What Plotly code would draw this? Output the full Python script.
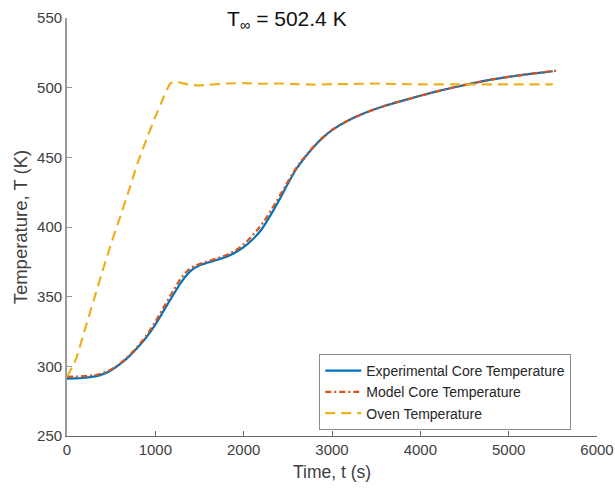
import plotly.graph_objects as go

# ---- data ----
t_exp = [0, 100, 200, 300, 400, 500, 600, 700, 800, 900, 1000, 1100, 1200, 1300, 1400,
         1500, 1600, 1700, 1800, 1900, 2000, 2100, 2200, 2300, 2400, 2500, 2600, 2700,
         2800, 2900, 3000, 3200, 3400, 3600, 3800, 4000, 4200, 4400, 4600, 4800, 5000,
         5200, 5400, 5500]
T_exp = [291.2, 291.3, 291.8, 292.6, 294.2, 297.2, 301.5, 307.0, 313.5, 321.0, 330.0,
         340.5, 351.0, 361.0, 368.5, 372.5, 374.5, 376.5, 378.5, 381.5, 385.5, 391.0,
         398.0, 408.0, 419.0, 431.0, 442.0, 450.5, 458.0, 464.3, 469.5, 477.0, 482.5,
         487.0, 490.7, 494.2, 497.5, 500.5, 503.3, 505.8, 507.8, 509.5, 511.0, 511.8]

t_mod = [0, 100, 200, 300, 400, 500, 600, 700, 800, 900, 1000, 1100, 1200, 1300, 1400,
         1500, 1600, 1700, 1800, 1900, 2000, 2100, 2200, 2300, 2400, 2500, 2600, 2700,
         2800, 2900, 3000, 3200, 3400, 3600, 3800, 4000, 4200, 4400, 4600, 4800, 5000,
         5200, 5400, 5560]
T_mod = [292.5, 292.6, 293.0, 293.6, 295.0, 297.8, 302.0, 307.5, 314.3, 322.3, 332.0,
         343.0, 354.0, 364.0, 370.5, 373.5, 375.5, 377.5, 379.8, 383.0, 387.5, 394.0,
         401.5, 411.0, 421.5, 432.5, 442.8, 451.0, 458.3, 464.5, 469.7, 477.0, 482.5,
         487.0, 490.7, 494.2, 497.5, 500.5, 503.3, 505.8, 507.8, 509.5, 511.2, 512.3]

t_oven = [0, 100, 200, 300, 400, 500, 600, 700, 800, 900, 1000, 1100, 1170, 1220,
          1300, 1400, 1500, 1600, 1800, 2000, 2200, 2400, 2600, 2800, 3000, 3200, 3500,
          3800, 4000, 4500, 5000, 5500]
T_oven = [292.5, 305.0, 326.0, 347.0, 368.0, 388.0, 407.0, 426.0, 446.0, 463.0, 479.0,
          494.0, 503.0, 504.5, 503.3, 502.0, 501.6, 502.0, 503.0, 503.2, 502.8,
          503.0, 502.5, 502.2, 502.5, 502.6, 503.0, 502.5, 502.4, 502.4, 502.4, 502.4]

names = ["Experimental Core Temperature", "Model Core Temperature", "Oven Temperature"]
x_ticks = [0, 1000, 2000, 3000, 4000, 5000, 6000]
y_ticks = [250, 300, 350, 400, 450, 500, 550]

FONT = "Liberation Sans, Arial, sans-serif"

fig = go.Figure()
fig.add_trace(go.Scatter(x=t_exp, y=T_exp, mode="lines", name=names[0],
                         line=dict(color="#0072BD", width=2.2, shape="spline")))
fig.add_trace(go.Scatter(x=t_mod, y=T_mod, mode="lines", name=names[1],
                         line=dict(color="#D95319", width=2.2, dash="6px,3px,2px,3px",
                                   shape="spline")))
fig.add_trace(go.Scatter(x=t_oven, y=T_oven, mode="lines", name=names[2],
                         line=dict(color="#EDB120", width=2.2, dash="10px,6px",
                                   shape="spline", smoothing=0.6)))

fig.update_layout(
    width=615, height=489,
    margin=dict(l=67, r=18, t=18, b=53),
    paper_bgcolor="white", plot_bgcolor="white",
    font=dict(family=FONT, color="#333333"),
    showlegend=True,
    legend=dict(x=0.476, y=0.196, xanchor="left", yanchor="top",
                bgcolor="white", bordercolor="#8a8a8a", borderwidth=1,
                font=dict(size=14, color="#262626", family=FONT),
                itemwidth=36, tracegroupgap=0),
    xaxis=dict(range=[0, 6000], tickvals=x_ticks, ticktext=[str(v) for v in x_ticks],
               showgrid=False, zeroline=False, showline=True, linecolor="#6a6a6a",
               linewidth=1.2, ticks="inside", ticklen=5, tickcolor="#6a6a6a",
               automargin=False,
               tickfont=dict(size=15, color="#404040")),
    yaxis=dict(range=[250, 550], tickvals=y_ticks, ticktext=[str(v) for v in y_ticks],
               showgrid=False, zeroline=False, showline=True, linecolor="#9a9a9a",
               linewidth=1.8, ticks="inside", ticklen=5, tickcolor="#9a9a9a",
               automargin=False,
               tickfont=dict(size=15, color="#404040")),
    annotations=[
        dict(text="T<sub>∞</sub> = 502.4 K", xref="paper", yref="paper",
             x=0.415, y=0.995, xanchor="center", yanchor="middle", showarrow=False,
             font=dict(size=21, color="#111111", family=FONT)),
        dict(text="Time, t (s)", xref="paper", yref="paper", x=0.5, y=-0.085,
             xanchor="center", yanchor="middle", showarrow=False,
             font=dict(size=17.5, color="#404040", family=FONT)),
        dict(text="Temperature, T (K)", xref="paper", yref="paper", x=-0.088, y=0.5,
             xanchor="center", yanchor="middle", showarrow=False, textangle=-90,
             font=dict(size=18.5, color="#404040", family=FONT)),
    ],
)

fig.write_html("out.html")
